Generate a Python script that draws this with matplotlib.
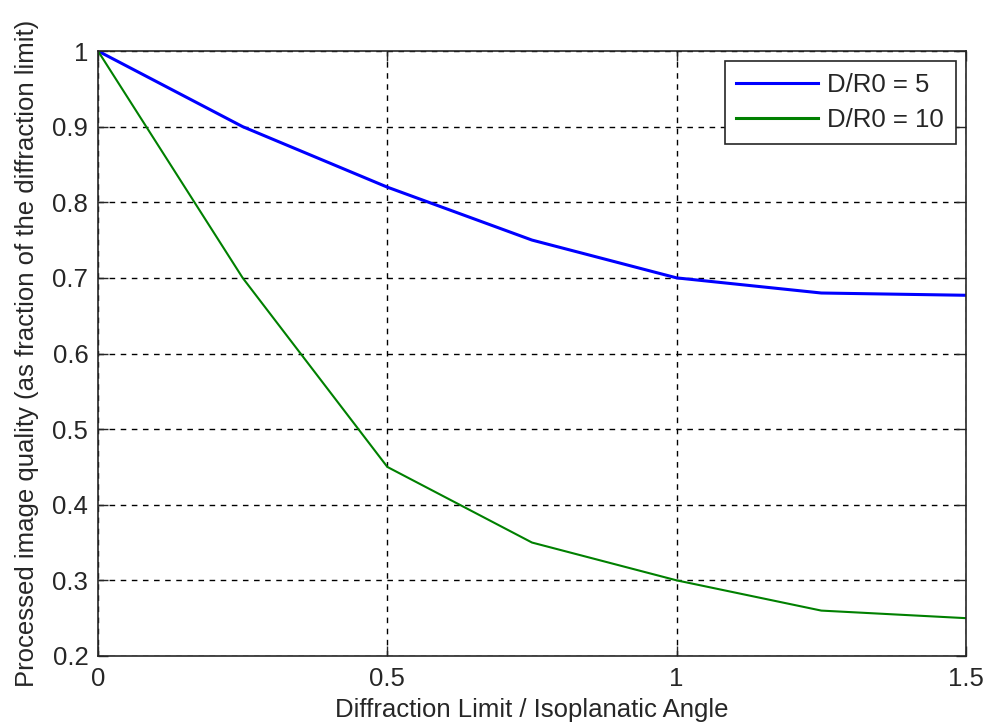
import numpy as np
import matplotlib.pyplot as plt

x = [0, 0.25, 0.5, 0.75, 1.0, 1.25, 1.5]
q_d5 = [1.0, 0.90, 0.82, 0.75, 0.70, 0.68, 0.677]
q_d10 = [1.0, 0.70, 0.45, 0.35, 0.30, 0.26, 0.25]
xticks = [0, 0.5, 1, 1.5]
yticks = [0.2, 0.3, 0.4, 0.5, 0.6, 0.7, 0.8, 0.9, 1.0]
yticklabels = ['0.2', '0.3', '0.4', '0.5', '0.6', '0.7', '0.8', '0.9', '1']
xticklabels = ['0', '0.5', '1', '1.5']

plt.rcParams['font.family'] = ['Liberation Sans', 'DejaVu Sans']
plt.rcParams['font.size'] = 18.5

fig = plt.figure(figsize=(9.87, 7.27), dpi=100)
ax = fig.add_axes([0.0993, 0.0977, 0.8794, 0.8321])

ax.plot(x, q_d5, color=(0, 0, 1), lw=2.2, label='D/R0 = 5')
ax.plot(x, q_d10, color=(0, 0.5, 0), lw=1.5, label='D/R0 = 10')

ax.set_xlim(0, 1.5)
ax.set_ylim(0.2, 1.0)
ax.set_xticks(xticks)
ax.set_xticklabels(xticklabels)
ax.set_yticks(yticks)
ax.set_yticklabels(yticklabels)
ax.tick_params(direction='in', length=7, width=1, top=True, right=True,
               colors='#262626', labelcolor='#262626')
ax.tick_params(axis='x', pad=8)
ax.tick_params(axis='y', pad=7)
for s in ax.spines.values():
    s.set_color('#262626')
    s.set_linewidth(1.2)

ax.grid(True, color='black', linestyle=(0, (4, 4)), lw=1)

ax.set_xlabel('Diffraction Limit / Isoplanatic Angle', color='#262626', labelpad=5)
ax.set_ylabel('Processed image quality (as fraction of the diffraction limit)',
              color='#262626', labelpad=10)

leg = ax.legend(loc='upper right', fancybox=False, framealpha=1,
                edgecolor='#262626', borderaxespad=0.4, handlelength=3.2,
                handletextpad=0.35, labelspacing=0.45, borderpad=0.45)
leg.get_frame().set_linewidth(1.2)
for t in leg.get_texts():
    t.set_color('#262626')
for l in leg.get_lines():
    l.set_linewidth(2.2)

fig.savefig('out.png', dpi=100)
